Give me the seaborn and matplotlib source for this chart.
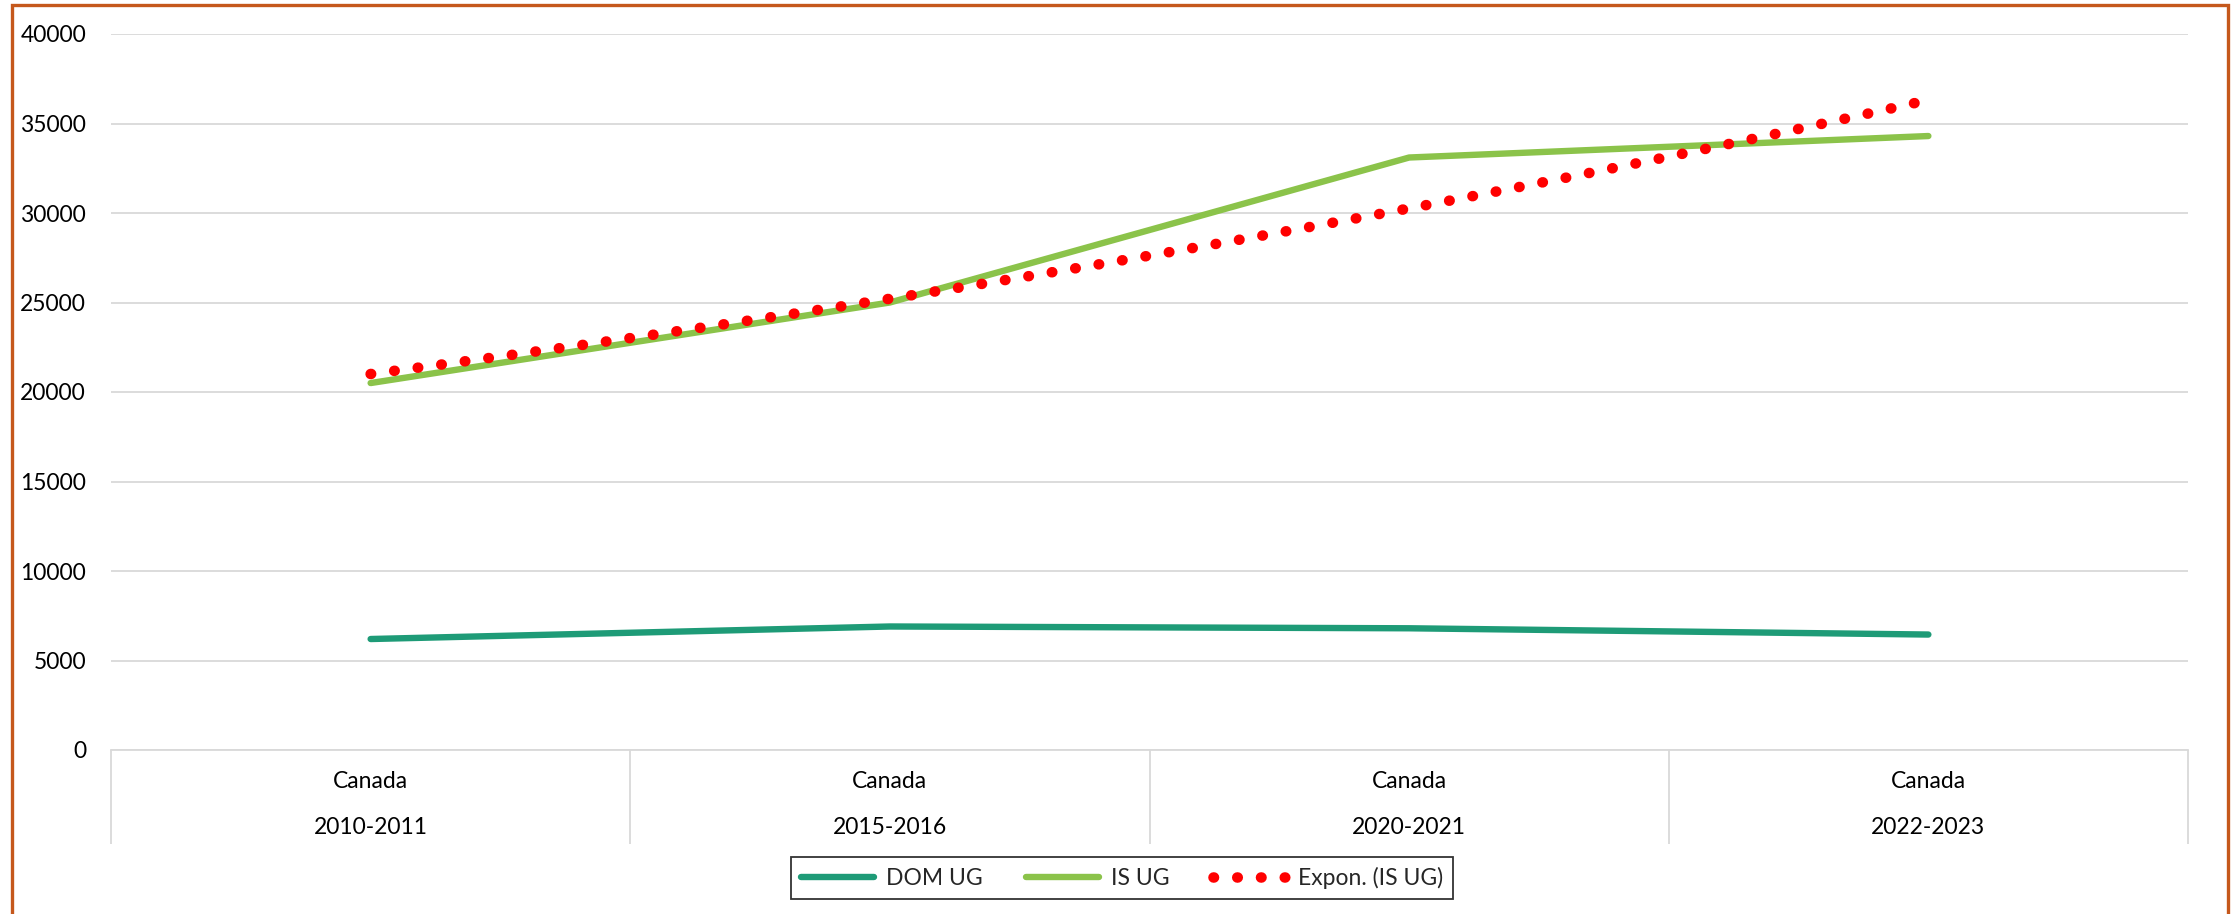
import numpy as np
import pandas as pd
import matplotlib
matplotlib.use("Agg")
import matplotlib.pyplot as plt
import matplotlib.transforms as mtransforms
from matplotlib.lines import Line2D
from matplotlib.patches import Rectangle
import seaborn as sns

# ---- data ----
countries = ["Canada", "Canada", "Canada", "Canada"]
years = ["2010-2011", "2015-2016", "2020-2021", "2022-2023"]
dom_ug = [6200, 6900, 6800, 6450]
is_ug = [20500, 25000, 33100, 34300]
y_ticks = [0, 5000, 10000, 15000, 20000, 25000, 30000, 35000, 40000]

sns.set_theme(style="white")
plt.rcParams["font.family"] = ["Lato", "DejaVu Sans"]

FS = 16.5
W, H = 2231, 914
fig = plt.figure(figsize=(W / 100, H / 100), dpi=100)
ax = fig.add_axes([111 / W, 1 - 750 / H, (2188 - 111) / W, (750 - 34) / H])

df = pd.DataFrame({
    "pos": list(range(len(years))) * 2,
    "value": dom_ug + is_ug,
    "series": ["DOM UG"] * len(years) + ["IS UG"] * len(years),
})
colors = {"DOM UG": "#1E9B77", "IS UG": "#8BC34A"}
sns.lineplot(data=df, x="pos", y="value", hue="series", palette=colors,
             linewidth=4.6, ax=ax, legend=False,
             solid_capstyle="round")

# exponential trendline fitted to IS UG (Excel convention x = 1..n)
xi = np.arange(1, len(is_ug) + 1)
b, a = np.polyfit(xi, np.log(is_ug), 1)
xs = np.linspace(1, len(is_ug), 400)
ax.plot(xs - 1, np.exp(a + b * xs), color="#FF0000", linewidth=7.6,
        linestyle=(0, (0.05, 2.2)), dash_capstyle="round", zorder=5)

ax.set_xlim(-0.5, len(years) - 0.5)
ax.set_ylim(0, 40000)
ax.set_yticks(y_ticks)
ax.set_yticklabels([str(t) for t in y_ticks], fontsize=FS, color="#000000")
ax.yaxis.grid(True, color="#D9D9D9", linewidth=1.3)
ax.tick_params(axis="y", length=0, pad=18)
ax.set_xlabel("")
ax.set_ylabel("")
for s in ["top", "right", "left"]:
    ax.spines[s].set_visible(False)
ax.spines["bottom"].set_color("#D9D9D9")
ax.spines["bottom"].set_linewidth(1.3)

# category divider ticks
ax.set_xticks([])
ax.set_xticks(np.arange(-0.5, len(years)), minor=True)
ax.tick_params(axis="x", which="minor", length=68, width=1.3, color="#D9D9D9",
               direction="out", bottom=True)
ax.tick_params(axis="x", which="major", length=0)

trans = mtransforms.blended_transform_factory(ax.transData, fig.transFigure)
for i, (c, yv) in enumerate(zip(countries, years)):
    ax.text(i, 1 - 781 / H, c, transform=trans, ha="center", va="center",
            fontsize=FS, color="#000000")
    ax.text(i, 1 - 827 / H, yv, transform=trans, ha="center", va="center",
            fontsize=FS, color="#000000")

handles = [
    Line2D([0], [0], color=colors["DOM UG"], lw=4.6, solid_capstyle="round"),
    Line2D([0], [0], color=colors["IS UG"], lw=4.6, solid_capstyle="round"),
    Line2D([0], [0], color="#FF0000", lw=7.6, linestyle=(0, (0.05, 2.2)),
           dash_capstyle="round"),
]
leg = fig.legend(handles, ["DOM UG", "IS UG", "Expon. (IS UG)"],
                 loc="center", bbox_to_anchor=(1122 / W, 1 - 878 / H),
                 ncol=3, frameon=True, fancybox=False, fontsize=FS,
                 handlelength=3.2, columnspacing=1.9, handletextpad=0.5,
                 borderpad=0.45, borderaxespad=0)
leg.get_frame().set_edgecolor("#000000")
leg.get_frame().set_linewidth(1.3)

# outer frame
fig.patches.append(Rectangle((12 / W, -0.2), (2228 - 12) / W, 1.2 - 5 / H,
                             transform=fig.transFigure, fill=False,
                             edgecolor="#C5581C", linewidth=2.4))

fig.savefig("out.png", dpi=100, facecolor="white")
